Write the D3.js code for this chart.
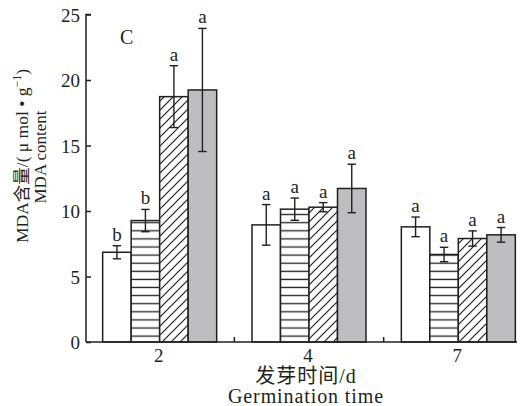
<!DOCTYPE html>
<html><head><meta charset="utf-8">
<script src="https://cdn.jsdelivr.net/npm/d3@7"></script>
<style>body{margin:0;background:#fff}svg{display:block}</style>
</head><body>
<svg id="c" width="529" height="406"></svg>
<script>
const groups = ["2", "4", "7"];
const series = ["s1", "s2", "s3", "s4"];
const values = [
  [6.85, 9.27, 18.73, 19.24],
  [8.94, 10.14, 10.29, 11.72],
  [8.79, 6.68, 7.90, 8.18]
];
const errors = [
  [0.50, 0.85, 2.36, 4.70],
  [1.55, 0.85, 0.35, 1.85],
  [0.75, 0.55, 0.58, 0.56]
];
const letters = [
  ["b", "b", "a", "a"],
  ["a", "a", "a", "a"],
  ["a", "a", "a", "a"]
];
const yTicks = [0, 5, 10, 15, 20, 25];

const svg = d3.select("#c");
const font = "'Liberation Serif','Times New Roman','Noto Sans CJK SC',serif";
const ink = "#231f20";

const defs = svg.append("defs");
const ph = defs.append("pattern").attr("id", "hl").attr("patternUnits", "userSpaceOnUse")
  .attr("width", 8).attr("height", 8.1);
ph.append("rect").attr("width", 8).attr("height", 8.1).attr("fill", "#fff");
ph.append("line").attr("x1", 0).attr("x2", 8).attr("y1", 4).attr("y2", 4)
  .attr("stroke", ink).attr("stroke-width", 1.3);
const pd = defs.append("pattern").attr("id", "dg").attr("patternUnits", "userSpaceOnUse")
  .attr("width", 9).attr("height", 9);
pd.append("rect").attr("width", 9).attr("height", 9).attr("fill", "#fff");
pd.append("path").attr("d", "M-1,1 L1,-1 M0,9 L9,0 M8,10 L10,8")
  .attr("stroke", ink).attr("stroke-width", 1.2);
const fills = ["#fff", "url(#hl)", "url(#dg)", "#bebec1"];

const y = d3.scaleLinear().domain([0, 25]).range([342, 14.5]);
const x = d3.scaleBand().domain(groups).range([85, 533]).paddingInner(0);
const xi = d3.scaleBand().domain(series).range([0, 114]);
const off = (x.bandwidth() - 114) / 2;

// bars
groups.forEach((g, gi) => {
  const gx = x(g) + off;
  series.forEach((s, si) => {
    const v = values[gi][si], e = errors[gi][si];
    const bx = gx + xi(s), bw = xi.bandwidth();
    svg.append("rect").attr("x", bx).attr("y", y(v)).attr("width", bw)
      .attr("height", y(0) - y(v)).attr("fill", fills[si])
      .attr("stroke", ink).attr("stroke-width", 1.5);
    const cx = bx + bw / 2;
    const eg = svg.append("g").attr("stroke", ink).attr("stroke-width", 1.4);
    eg.append("line").attr("x1", cx).attr("x2", cx).attr("y1", y(v + e)).attr("y2", y(v - e));
    eg.append("line").attr("x1", cx - 4.2).attr("x2", cx + 4.2).attr("y1", y(v + e)).attr("y2", y(v + e));
    eg.append("line").attr("x1", cx - 4.2).attr("x2", cx + 4.2).attr("y1", y(v - e)).attr("y2", y(v - e));
    svg.append("text").attr("x", cx).attr("y", y(v + e) - 5).attr("text-anchor", "middle")
      .attr("font-family", font).attr("font-size", 19).attr("fill", ink).text(letters[gi][si]);
  });
});

// y axis
const ya = svg.append("g").attr("transform", "translate(86,0)")
  .call(d3.axisRight(y).tickValues(yTicks).tickSize(5).tickFormat(d3.format("d")));
ya.select(".domain").attr("d", `M5,${y(25)}H0V${y(0)}`).attr("stroke", ink).attr("stroke-width", 1.5);
ya.selectAll(".tick line").attr("stroke", ink).attr("stroke-width", 1.5);
ya.selectAll(".tick text").attr("x", -6).attr("text-anchor", "end").attr("dy", "0.36em")
  .attr("font-family", font).attr("font-size", 19).attr("fill", ink);

// x axis
svg.append("line").attr("x1", 86).attr("x2", 517).attr("y1", y(0)).attr("y2", y(0))
  .attr("stroke", ink).attr("stroke-width", 1.5);
groups.slice(1).forEach(g => {
  svg.append("line").attr("x1", x(g)).attr("x2", x(g)).attr("y1", y(0)).attr("y2", y(0) - 5)
    .attr("stroke", ink).attr("stroke-width", 1.5);
});
groups.forEach(g => {
  svg.append("text").attr("x", x(g) + x.bandwidth() / 2 - 1).attr("y", 362).attr("text-anchor", "middle")
    .attr("font-family", font).attr("font-size", 19).attr("fill", ink).text(g);
});
svg.append("text").attr("x", 306).attr("y", 383).attr("text-anchor", "middle")
  .attr("font-family", font).attr("font-size", 20).attr("letter-spacing", 1).attr("fill", ink).text("发芽时间/d");
svg.append("text").attr("x", 306).attr("y", 403).attr("text-anchor", "middle")
  .attr("font-family", font).attr("font-size", 20).attr("letter-spacing", 0.9).attr("fill", ink).text("Germination time");

// y label
const yl = svg.append("text").attr("transform", "translate(28,156) rotate(-90)")
  .attr("text-anchor", "middle").attr("font-family", font).attr("font-size", 17.5).attr("fill", ink);
yl.append("tspan").text("MDA含量/( μ mol • g");
yl.append("tspan").attr("font-size", 12).attr("dy", -7).text("−1");
yl.append("tspan").attr("dy", 7).text(")");
svg.append("text").attr("transform", "translate(46,157) rotate(-90)")
  .attr("text-anchor", "middle").attr("font-family", font).attr("font-size", 17).attr("fill", ink)
  .text("MDA content");

// panel letter
svg.append("text").attr("x", 120).attr("y", 44).attr("font-family", font).attr("font-size", 20)
  .attr("fill", ink).text("C");
</script>
</body></html>
